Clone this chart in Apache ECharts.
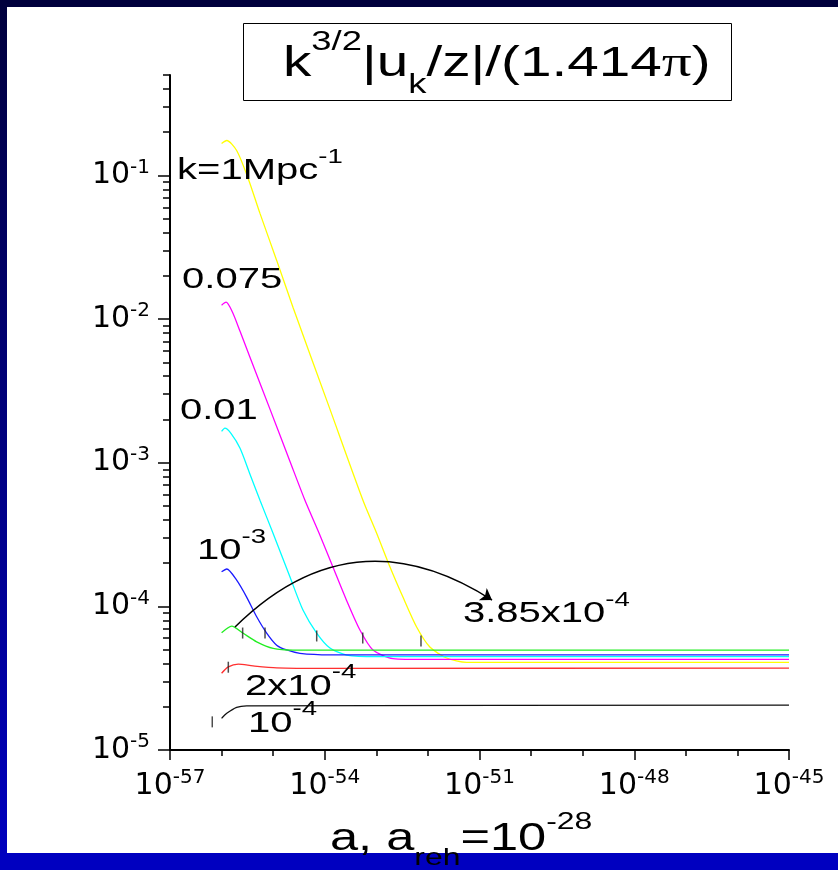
<!DOCTYPE html>
<html>
<head>
<meta charset="utf-8">
<script src="https://cdn.jsdelivr.net/npm/echarts@6.0.0/dist/echarts.min.js"></script>
<style>
  html, body { margin: 0; padding: 0; background: #fff; }
  #wrap { position: relative; width: 838px; height: 870px; overflow: hidden; background: #fff; }
  #topBar { position: absolute; left: 0; top: 0; width: 838px; height: 7px; background: #00003c; }
  #leftBar { position: absolute; left: 0; top: 0; width: 7px; height: 870px; background: linear-gradient(#00003c, #0000c0); }
  #bottomBar { position: absolute; left: 0; top: 853px; width: 838px; height: 17px; background: #0000c0; }
  #chart { position: absolute; left: 0; top: 0; width: 838px; height: 870px; }
</style>
</head>
<body>
<div id="wrap">
  <div id="topBar"></div>
  <div id="leftBar"></div>
  <div id="bottomBar"></div>
  <div id="chart"></div>
</div>
<script>
// axis ticks (x axis is drawn in decades of a, i.e. log10 a)
const xMajorTicks = [-57, -54, -51, -48, -45];
const xMinorTicks = [-56, -55, -53, -52, -50, -49, -47, -46];
const yMajorTicks = [1e-5, 1e-4, 1e-3, 1e-2, 1e-1];
const yMinorSteps = [2, 3, 4, 5, 6, 7, 8, 9];

// curves (a, value)
const yellowX = [1.0e-56, 1.26e-56, 1.96e-56, 3.25e-56, 5.55e-56, 1.17e-55, 2.42e-55, 1.26e-54, 5.5e-54, 1.01e-53, 1.84e-53, 3.28e-53, 6.04e-53, 1.09e-52, 2.3e-52, 5.6e-52, 1e-45];
const yellowY = [0.167, 0.175, 0.149, 0.096, 0.0544, 0.0256, 0.0121, 2.36e-3, 5.48e-4, 3.24e-4, 1.88e-4, 1.16e-4, 7.18e-5, 5.21e-5, 4.37e-5, 4.07e-5, 4.07e-5];

const magentaX = [1.0e-56, 1.22e-56, 1.62e-56, 2.28e-56, 3.55e-56, 8.67e-56, 2.12e-55, 4.13e-55, 7.74e-55, 1.44e-54, 2.65e-54, 4.81e-54, 8.6e-54, 2.1e-53, 9.4e-53, 1e-45];
const magentaY = [0.0125, 0.0131, 0.0112, 0.00822, 0.00542, 0.00236, 0.00102, 5.48e-4, 3.24e-4, 1.88e-4, 1.10e-4, 6.84e-5, 4.97e-5, 4.33e-5, 4.27e-5, 4.27e-5];

const cyanX = [1.0e-56, 1.16e-56, 1.52e-56, 2.28e-56, 3.55e-56, 5.55e-56, 9.9e-56, 2.12e-55, 3.78e-55, 6.97e-55, 1.26e-54, 2.65e-54, 1.01e-53, 1e-45];
const cyanY = [0.00165, 0.00174, 0.0016, 0.00126, 8.32e-4, 5.48e-4, 3.24e-4, 1.60e-4, 9.42e-5, 6.52e-5, 5.13e-5, 4.58e-5, 4.46e-5, 4.46e-5];

const blueX = [1.0e-56, 1.26e-56, 1.96e-56, 3.06e-56, 4.79e-56, 7.48e-56, 1.17e-55, 1.83e-55, 3.3e-55, 1.26e-54, 1e-45];
const blueY = [1.74e-4, 1.82e-4, 1.52e-4, 1.16e-4, 8.46e-5, 6.52e-5, 5.37e-5, 4.97e-5, 4.71e-5, 4.6e-5, 4.6e-5];

const greenX = [1.0e-56, 1.57e-56, 2.63e-56, 4.79e-56, 1.0e-55, 2.42e-55, 1e-45];
const greenY = [6.55e-5, 7.29e-5, 6.49e-5, 5.66e-5, 5.09e-5, 4.95e-5, 4.95e-5];

const redX = [1.0e-56, 1.35e-56, 2.11e-56, 4.06e-56, 1.17e-55, 1.09e-54, 1e-45];
const redY = [3.42e-5, 3.79e-5, 3.96e-5, 3.85e-5, 3.73e-5, 3.7e-5, 3.72e-5];

const blackX = [1.0e-56, 1.26e-56, 1.96e-56, 3.06e-56, 1e-45];
const blackY = [1.66e-5, 1.80e-5, 1.98e-5, 2.03e-5, 2.05e-5];

// little vertical marks on the curves
const markX = [6.6e-57, 1.35e-56, 2.56e-56, 6.95e-56, 6.98e-55, 5.45e-54, 7.34e-53];
const markY = [1.57e-5, 3.77e-5, 6.52e-5, 6.52e-5, 6.22e-5, 6.02e-5, 5.74e-5];

// arc with arrow
const arcStart = [1.82e-56, 7.18e-5];
const arcEnd = [1.75e-51, 1.107e-4];

// curve labels
const annoX = [1.37e-57, 1.71e-57, 1.56e-57, 3.33e-57, 2.84e-56, 3.25e-56, 4.77e-52];
const annoY = [0.1067, 0.01862, 0.00228, 2.42e-4, 2.75e-5, 1.52e-5, 8.83e-5];
const annoText = ['{m|k=1Mpc}{sup|-1}', '{m|0.075}', '{m|0.01}', '{m|10}{sup|-3}', '{m|2x10}{sup|-4}', '{m|10}{sup|-4}', '{m|3.85x10}{sup|-4}'];

const yMinorTicks = [];
yMajorTicks.forEach(function (d) {
  yMinorSteps.forEach(function (m) {
    if (d * m <= 0.5) yMinorTicks.push(d * m);
  });
});

const tickFont = 'DejaVu Sans';
const labelRich = {
  b: { fontSize: 30, fontFamily: tickFont, color: '#000', lineHeight: 36, verticalAlign: 'middle' },
  s: { fontSize: 20, fontFamily: tickFont, color: '#000', lineHeight: 12, verticalAlign: 'top' }
};

const annoRich = {
  m: { fontSize: 29, fontFamily: 'Liberation Sans', color: '#000', lineHeight: 48, verticalAlign: 'middle' },
  sup: { fontSize: 20, fontFamily: 'Liberation Sans', color: '#000', lineHeight: 24, verticalAlign: 'top' }
};

const chart = echarts.init(document.getElementById('chart'));

function pairs(xs, ys) {
  return xs.map(function (x, i) { return [Math.log10(x), ys[i]]; });
}

function curve(name, xs, ys, color) {
  return {
    name: name,
    type: 'line',
    data: pairs(xs, ys),
    showSymbol: false,
    smooth: 0.25,
    lineStyle: { color: color, width: 1.3 },
    z: 3
  };
}

const tickStyle = { color: '#000', width: 1.5 };

const option = {
  animation: false,
  grid: { left: 170, right: 49, top: 75, bottom: 120 },
  xAxis: [
    {
      type: 'value', min: -57, max: -45, position: 'bottom',
      axisLine: { lineStyle: { color: '#000', width: 2 } },
      axisTick: { customValues: xMajorTicks, length: 10, lineStyle: tickStyle },
      axisLabel: {
        customValues: xMajorTicks, rich: labelRich, margin: 18,
        formatter: function (v) { return '{b|10}{s|' + v + '}'; }
      },
      splitLine: { show: false }
    },
    {
      type: 'value', min: -57, max: -45, position: 'bottom',
      axisLine: { show: false },
      axisTick: { customValues: xMinorTicks, length: 6, lineStyle: tickStyle },
      axisLabel: { show: false },
      splitLine: { show: false }
    }
  ],
  yAxis: [
    {
      type: 'log', logBase: 10, min: 1e-5, max: 0.5, position: 'left',
      axisLine: { lineStyle: { color: '#000', width: 2 } },
      axisTick: { customValues: yMajorTicks, length: 12, lineStyle: tickStyle },
      axisLabel: {
        customValues: yMajorTicks, rich: labelRich, margin: 20,
        formatter: function (v) { return '{b|10}{s|' + Math.round(Math.log10(v)) + '}'; }
      },
      splitLine: { show: false }
    },
    {
      type: 'log', logBase: 10, min: 1e-5, max: 0.5, position: 'left',
      axisLine: { show: false },
      axisTick: { customValues: yMinorTicks, length: 7, lineStyle: tickStyle },
      axisLabel: { show: false },
      splitLine: { show: false }
    }
  ],
  series: [
    curve('k=1', yellowX, yellowY, '#ffff00'),
    curve('0.075', magentaX, magentaY, '#ff00ff'),
    curve('0.01', cyanX, cyanY, '#00ffff'),
    curve('1e-3', blueX, blueY, '#1a1aff'),
    curve('3.85e-4', greenX, greenY, '#22ee22'),
    curve('2e-4', redX, redY, '#ff3030'),
    curve('1e-4', blackX, blackY, '#111'),
    {
      type: 'scatter',
      data: pairs(markX, markY),
      symbol: 'rect',
      symbolSize: [1.5, 11],
      itemStyle: { color: '#222' },
      z: 5
    },
    {
      type: 'lines',
      coordinateSystem: 'cartesian2d',
      data: [{ coords: pairs([arcStart[0], arcEnd[0]], [arcStart[1], arcEnd[1]]) }],
      symbol: ['none', 'arrow'],
      symbolSize: 11,
      lineStyle: { color: '#000', width: 1.5, curveness: 0.4, opacity: 1 },
      z: 4
    },
    {
      type: 'custom',
      data: pairs(annoX, annoY),
      renderItem: function (params, api) {
        const p = api.coord([api.value(0), api.value(1)]);
        return {
          type: 'text',
          x: p[0],
          y: p[1],
          scaleX: 1.38,
          style: { text: annoText[params.dataIndex], rich: annoRich, align: 'left', verticalAlign: 'middle' }
        };
      },
      z: 6
    }
  ],
  graphic: [
    {
      type: 'rect',
      shape: { x: 243.5, y: 23.5, width: 488, height: 77 },
      style: { fill: '#fff', stroke: '#000', lineWidth: 1 },
      z: 100
    },
    {
      type: 'text',
      x: 283, y: 64, scaleX: 1.35,
      style: {
        text: '{m|k}{sup|3/2}{m||u}{sub|k}{m|/z|/(1.414}{pi|π}{m|)}',
        align: 'left', verticalAlign: 'middle',
        rich: {
          m: { fontSize: 42, fontFamily: 'Liberation Sans', color: '#000', lineHeight: 70, verticalAlign: 'middle' },
          pi: { fontSize: 44, fontFamily: 'Liberation Serif', color: '#000', lineHeight: 70, verticalAlign: 'middle' },
          sup: { fontSize: 27, fontFamily: 'Liberation Sans', color: '#000', lineHeight: 38, verticalAlign: 'top' },
          sub: { fontSize: 27, fontFamily: 'Liberation Sans', color: '#000', lineHeight: 34, verticalAlign: 'bottom' }
        }
      },
      z: 101
    },
    {
      type: 'text',
      x: 330, y: 840, scaleX: 1.33,
      style: {
        text: '{m|a, a}{sub|reh}{m|=10}{sup|-28}',
        align: 'left', verticalAlign: 'middle',
        rich: {
          m: { fontSize: 38, fontFamily: 'Liberation Sans', color: '#000', lineHeight: 60, verticalAlign: 'middle' },
          sub: { fontSize: 24, fontFamily: 'Liberation Sans', color: '#000', lineHeight: 20, verticalAlign: 'bottom' },
          sup: { fontSize: 24, fontFamily: 'Liberation Sans', color: '#000', lineHeight: 35, verticalAlign: 'top' }
        }
      },
      z: 101
    }
  ]
};

chart.setOption(option);
</script>
</body>
</html>
